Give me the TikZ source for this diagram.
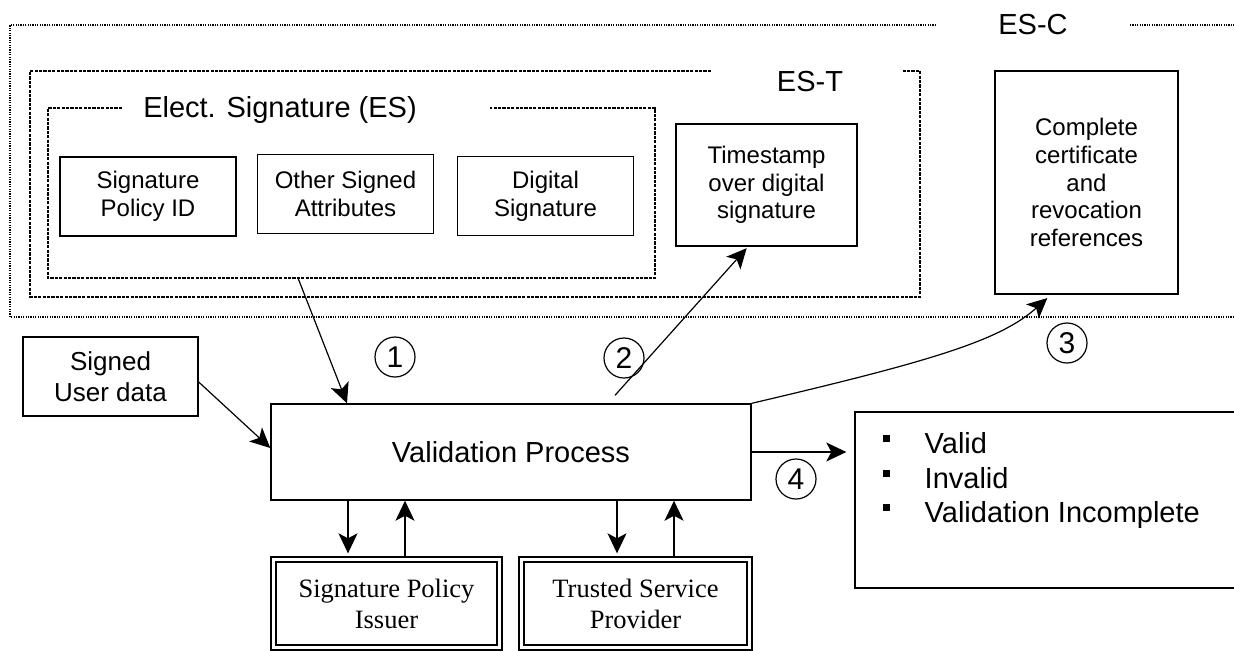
\documentclass[tikz,border=0pt]{standalone}
\usepackage{fontspec}
\setmainfont{Liberation Sans}
\newfontfamily\providerfont{Liberation Serif}
\usepackage{tikz}
\usetikzlibrary{arrows.meta}
\newcommand{\outbullet}{\raisebox{5.75pt}{\rule{3.5pt}{3.5pt}}\hspace{17.5pt}}

\begin{document}
\begin{tikzpicture}[x=0.5pt, y=-0.5pt]
    \tikzstyle{arrow} = [line width=0.6pt,->,>={Stealth[length=10pt,width=9.5pt,inset=2.5pt]}]
    \tikzstyle{itembox} = [rectangle, draw=black, line width=0.7pt, minimum width=88pt, minimum height=39.5pt, inner sep=1pt, align=center, font=\fontsize{12}{13.8}\selectfont]
    \tikzstyle{groupbox} = [rectangle, inner sep=0pt, outer sep=0pt]
    \tikzstyle{grouplabel} = [inner sep=0pt, font=\fontsize{14.5}{17}\selectfont]
    \tikzstyle{outerline} = [line width=0.55pt, dash pattern=on 0.6pt off 0.6pt]
    \tikzstyle{innerline} = [line width=0.55pt, dash pattern=on 1.6pt off 0.6pt]
    \tikzstyle{partybox} = [rectangle, draw=black, line width=0.7pt, double, double distance=1.8pt, minimum height=44pt, align=center, font=\providerfont\fontsize{13.25}{15.5}\selectfont]
    \tikzstyle{stepnum} = [circle, draw=black, line width=0.6pt, minimum size=20pt, inner sep=0pt, font=\fontsize{15}{15}\selectfont]
    \useasboundingbox (0,0) rectangle (1234,650);
    \node[groupbox, minimum width=620pt, minimum height=146pt] (esc) at (630,171) {};
    \node[groupbox, minimum width=445pt, minimum height=113pt] (est) at (475,184) {};
    \node[groupbox, minimum width=303.5pt, minimum height=85pt] (es) at (351.5,193) {};
    \draw[outerline] ([xshift=463pt]esc.north west) -- (esc.north west) -- (esc.south west) -- (esc.south east);
    \draw[outerline] ([xshift=560pt]esc.north west) -- (esc.north east);
    \draw[innerline] ([xshift=340.5pt]est.north west) -- (est.north west) -- (est.south west) -- (est.south east) -- (est.north east) -- ([xshift=-9pt]est.north east);
    \draw[innerline] ([xshift=37pt]es.north west) -- (es.north west) -- (es.south west) -- (es.south east) -- (es.north east) -- ([xshift=-82.5pt]es.north east);
    \node[grouplabel] (esclabel) at ([xshift=511.5pt]esc.north west) {ES-C};
    \node[grouplabel] (estlabel) at ([xshift=-55pt,yshift=-5.5pt]est.north east) {ES-T};
    \node[grouplabel] (eslabel) at ([xshift=116pt,yshift=-1pt]es.north west) {Elect. Signature (ES)};
    \node[itembox] (policyid) at (148,196.5) {Signature\\Policy ID};
    \node[itembox, right of=policyid, node distance=98.75pt, yshift=1.25pt] (signedattr) {Other Signed\\Attributes};
    \node[itembox, right of=signedattr, node distance=100pt, yshift=-1pt] (digsig) {Digital\\Signature};
    \node[itembox, minimum width=90.5pt, minimum height=61pt] (timestamp) at (766.5,185) {Timestamp\\over digital\\signature};
    \node[itembox, minimum width=91.5pt, minimum height=111.5pt] (complete) at (1086.5,182.5) {Complete\\certificate\\and\\revocation\\references};
    \node[itembox, minimum width=87.5pt, font=\fontsize{13}{15.8}\selectfont] (userdata) at (110.5,376.5) {Signed\\User data};
    \node[itembox, minimum width=240pt, minimum height=48pt, font=\fontsize{14.5}{17}\selectfont] (valid) at (511,452) {Validation Process};
    \node[itembox, minimum width=207.5pt, minimum height=88pt] (result) at (1062.5,500) {};
    \node[anchor=north west, inner sep=0pt, align=left, font=\fontsize{14.5}{17.25}\selectfont] (outcomes) at ([xshift=14pt,yshift=-10.5pt]result.north west) {\outbullet Valid\\\outbullet Invalid\\\outbullet Validation Incomplete};
    \node[partybox, minimum width=113pt] (policyissuer) at (386.5,603.5) {Signature Policy\\Issuer};
    \node[partybox, minimum width=114pt, right of=policyissuer, node distance=124.5pt] (tsp) {Trusted Service\\Provider};
    \node[stepnum] (one) at (395,357) {1};
    \node[stepnum] (two) at (624,358) {2};
    \node[stepnum] (three) at (1067,343) {3};
    \node[stepnum] (four) at (796,479) {4};
    \draw[arrow] ([xshift=-26.75pt]es.south) -- ([xshift=-82pt]valid.north);
    \draw[arrow] ([yshift=-2.75pt]userdata.east) -- ([yshift=2pt]valid.west);
    \draw[arrow, shorten >=1pt] ([xshift=52pt,yshift=4pt]valid.north) -- ([xshift=-9.25pt]timestamp.south);
    \draw[arrow, shorten >=2.5pt] (valid.north east) .. controls +(179,-42) and +(-51,46) .. ([xshift=-17.75pt]complete.south);
    \draw[arrow, shorten >=4pt] (valid.east) -- (valid.east -| result.west);
    \draw[arrow, shorten >=2.75pt] ([xshift=-19.25pt]policyissuer.north |- valid.south) -- ([xshift=-19.25pt]policyissuer.north);
    \draw[arrow] ([xshift=9.25pt,yshift=1.6pt]policyissuer.north) -- ([xshift=9.25pt]policyissuer.north |- valid.south);
    \draw[arrow, shorten >=2.75pt] ([xshift=-9.25pt]tsp.north |- valid.south) -- ([xshift=-9.25pt]tsp.north);
    \draw[arrow] ([xshift=19.25pt,yshift=1.6pt]tsp.north) -- ([xshift=19.25pt]tsp.north |- valid.south);
\end{tikzpicture}
\end{document}
